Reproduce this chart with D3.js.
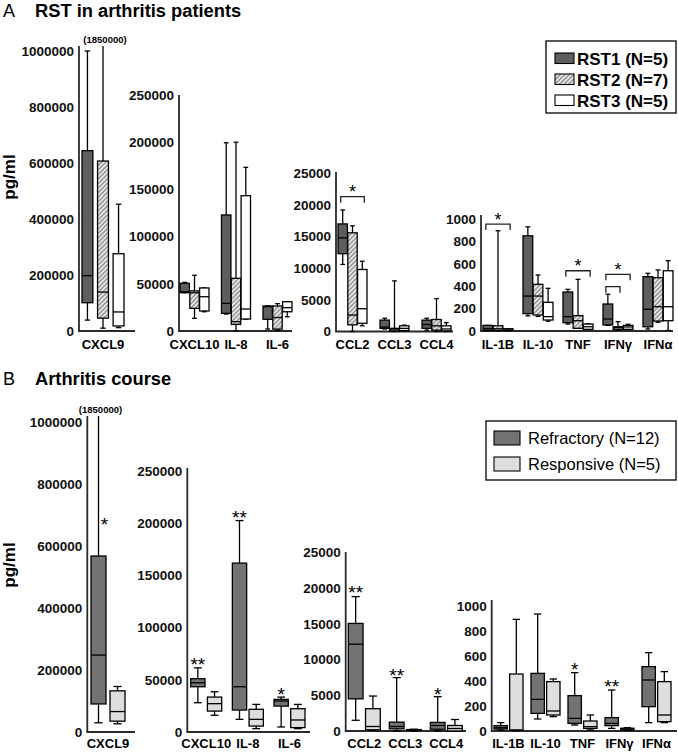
<!DOCTYPE html>
<html><head><meta charset="utf-8">
<script src="https://cdn.jsdelivr.net/npm/d3@7"></script>
<style>
body{margin:0;background:#fff}
svg{display:block}
text{font-family:"Liberation Sans",Arial,Helvetica,sans-serif}
</style>
</head><body>
<svg id="chart" width="678" height="755"></svg>
<script>
// ---------------- DATA ----------------
const seriesA = ["RST1 (N=5)", "RST2 (N=7)", "RST3 (N=5)"];
const seriesB = ["Refractory (N=12)", "Responsive (N=5)"];

const groupChemo9 = ["CXCL9"];
const groupChemoIL = ["CXCL10", "IL-8", "IL-6"];
const groupCCL = ["CCL2", "CCL3", "CCL4"];
const groupLow = ["IL-1B", "IL-10", "TNF", "IFNγ", "IFNα"];

const ticksMillion = [0, 200000, 400000, 600000, 800000, 1000000];
const ticks250k = [0, 50000, 100000, 150000, 200000, 250000];
const ticks25k = [0, 5000, 10000, 15000, 20000, 25000];
const ticks1k = [0, 200, 400, 600, 800, 1000];

const outlierLabel = "(1850000)";

// box stats: [low whisker, Q1, median, Q3, high whisker]
const rst1Stats = {
  "CXCL9": [39000, 101000, 197500, 644000, 1000000],
  "CXCL10": [40600, 40600, 41500, 50500, 51500],
  "IL-8": [18000, 18700, 29300, 122900, 199400],
  "IL-6": [2100, 12400, 25800, 26500, 26500],
  "CCL2": [10600, 12300, 14800, 17000, 19200],
  "CCL3": [400, 500, 700, 1800, 2100],
  "CCL4": [200, 500, 1100, 1800, 2100],
  "IL-1B": [3, 5, 20, 50, 50],
  "IL-10": [135, 155, 312, 850, 930],
  "TNF": [62, 74, 128, 348, 372],
  "IFNγ": [50, 54, 107, 241, 328],
  "IFNα": [18, 38, 194, 485, 515]
};
const rst2Stats = {
  "CXCL9": [10000, 46000, 139000, 607000, 1850000],
  "CXCL10": [13400, 24000, 40500, 42500, 59000],
  "IL-8": [0, 7000, 9900, 55800, 200000],
  "IL-6": [500, 2000, 14300, 26500, 29000],
  "CCL2": [0, 1050, 2600, 15600, 16700],
  "CCL3": [0, 50, 250, 500, 8000],
  "CCL4": [0, 200, 900, 1900, 5200],
  "IL-1B": [3, 5, 20, 47, 895],
  "IL-10": [130, 143, 312, 417, 500],
  "TNF": [24, 24, 92, 137, 461],
  "IFNγ": [8, 15, 30, 38, 83],
  "IFNα": [78, 89, 217, 476, 545]
};
const rst3Stats = {
  "CXCL9": [12000, 18000, 68000, 276000, 453000],
  "CXCL10": [20400, 21200, 36300, 45600, 45600],
  "IL-8": [12700, 12700, 23300, 143300, 173400],
  "IL-6": [15100, 20400, 24700, 31000, 31000],
  "CCL2": [900, 1300, 3600, 9800, 11100],
  "CCL3": [100, 150, 500, 900, 1000],
  "CCL4": [0, 100, 400, 900, 1400],
  "IL-1B": [2, 4, 10, 20, 20],
  "IL-10": [88, 98, 128, 256, 381],
  "TNF": [15, 15, 38, 62, 65],
  "IFNγ": [15, 15, 36, 50, 60],
  "IFNα": [5, 92, 217, 538, 628]
};
const refractoryStats = {
  "CXCL9": [29800, 90600, 248600, 568600, 1850000],
  "CXCL10": [28000, 43300, 47100, 51000, 61400],
  "IL-8": [12100, 21000, 43300, 161600, 202300],
  "IL-6": [4800, 24800, 29600, 31200, 33400],
  "CCL2": [1500, 4500, 12150, 15050, 18800],
  "CCL3": [0, 300, 630, 1240, 7470],
  "CCL4": [0, 250, 770, 1200, 4800],
  "IL-1B": [8, 16, 27, 43, 67],
  "IL-10": [96, 141, 253, 461, 936],
  "TNF": [48, 61, 101, 283, 467],
  "IFNγ": [21, 43, 61, 107, 328],
  "IFNα": [67, 195, 408, 515, 627]
};
const responsiveStats = {
  "CXCL9": [26500, 35000, 66000, 133000, 147000],
  "CXCL10": [16000, 20000, 27100, 33400, 38500],
  "IL-8": [3200, 5700, 12100, 21700, 26400],
  "IL-6": [3200, 4200, 11500, 22300, 26400],
  "CCL2": [100, 170, 630, 3120, 4890],
  "CCL3": [20, 50, 100, 200, 250],
  "CCL4": [0, 0, 350, 770, 1610],
  "IL-1B": [3, 5, 8, 456, 893],
  "IL-10": [115, 128, 160, 395, 416],
  "TNF": [8, 21, 35, 80, 128],
  "IFNγ": [5, 8, 15, 22, 27],
  "IFNα": [67, 75, 128, 395, 475]
};

// significance
const bracketsA = [
  {cat: "CCL2", from: 0, to: 2, value: 21300, label: "*"},
  {cat: "IL-1B", from: 0, to: 2, value: 955, label: "*"},
  {cat: "TNF", from: 0, to: 2, value: 538, label: "*"},
  {cat: "IFNγ", from: 0, to: 2, value: 506, label: "*"},
  {cat: "IFNγ", from: 0, to: 1, value: 396, label: ""}
];
const starsB = [
  {cat: "CXCL9", value: 682000, label: "*"},
  {cat: "CXCL10", value: 67700, label: "**"},
  {cat: "IL-8", value: 208700, label: "**"},
  {cat: "IL-6", value: 39100, label: "*"},
  {cat: "CCL2", value: 19830, label: "**"},
  {cat: "CCL3", value: 8260, label: "**"},
  {cat: "CCL4", value: 5620, label: "*"},
  {cat: "TNF", value: 520, label: "*"},
  {cat: "IFNγ", value: 382, label: "**"}
];

// ---------------- LAYOUT / STYLE ----------------
const svg = d3.select("#chart");
const defs = svg.append("defs");
const pat = defs.append("pattern").attr("id", "hatch")
  .attr("patternUnits", "userSpaceOnUse").attr("width", 3.2).attr("height", 3.2)
  .attr("patternTransform", "rotate(45)");
pat.append("rect").attr("width", 3.2).attr("height", 3.2).attr("fill", "#e8e8e8");
pat.append("line").attr("x1", 0.8).attr("y1", 0).attr("x2", 0.8).attr("y2", 3.2)
  .attr("stroke", "#7a7a7a").attr("stroke-width", 1.1);

const fillsA = ["#5e5e5e", "url(#hatch)", "#ffffff"];
const fillsB = ["#737373", "#dedede"];
const AX = "#2a2a2a";

const panelA = {
  series: seriesA, stats: [rst1Stats, rst2Stats, rst3Stats], fills: fillsA, labelY: 348.5, capFrac: 0.5,
  subs: [
    {cats: groupChemo9, ticks: ticksMillion, x0: 79, xEnd: 135, top: 46, y0: 331, yMax: 51, range: [82, 124], pc: 0, ps: 0.3},
    {cats: groupChemoIL, ticks: ticks250k, x0: 179, xEnd: 292, top: 95, y0: 331, yMax: 95, range: [180, 292], pc: 0.301, ps: 0.04},
    {cats: groupCCL, ticks: ticks25k, x0: 336, xEnd: 453, top: 172, y0: 331.5, yMax: 173.3, range: [338, 451], pc: 0.31, ps: 0.04},
    {cats: groupLow, ticks: ticks1k, x0: 481, xEnd: 673, top: 215, y0: 331, yMax: 219, range: [483, 673], pc: 0.25, ps: 0.04}
  ]
};
const panelB = {
  series: seriesB, stats: [refractoryStats, responsiveStats], fills: fillsB, labelY: 748, capFrac: 0.55,
  subs: [
    {cats: groupChemo9, ticks: ticksMillion, x0: 87.3, xEnd: 135, top: 416, y0: 732, yMax: 422.5, range: [91, 125], pc: 0, ps: 0.21},
    {cats: groupChemoIL, ticks: ticks250k, x0: 187.3, xEnd: 310, top: 468, y0: 732, yMax: 470.7, range: [190.7, 305], pc: 0.256, ps: 0.144},
    {cats: groupCCL, ticks: ticks25k, x0: 345.7, xEnd: 466, top: 552, y0: 731, yMax: 552.3, range: [348.3, 462.3], pc: 0.22, ps: 0.144},
    {cats: groupLow, ticks: ticks1k, x0: 491.7, xEnd: 677, top: 600, y0: 731, yMax: 606, range: [494, 671], pc: 0.216, ps: 0.144}
  ]
};

function drawPanel(panel) {
  const scales = {};
  panel.subs.forEach(sub => {
    const dmax = sub.ticks[sub.ticks.length - 1];
    const y = d3.scaleLinear().domain([0, dmax]).range([sub.y0, sub.yMax]);
    const x = d3.scaleBand().domain(sub.cats).range(sub.range).paddingInner(sub.pc).paddingOuter(0);
    const xs = d3.scaleBand().domain(panel.series).range([0, x.bandwidth()]).paddingInner(sub.ps).paddingOuter(0);
    sub.cats.forEach(c => scales[c] = {x, xs, y, dmax, sub});

    const g = svg.append("g");
    // axis
    const ax = g.append("g").attr("transform", `translate(${sub.x0},0)`)
      .call(d3.axisLeft(y).tickValues(sub.ticks).tickSize(0).tickPadding(5).tickFormat(d3.format("d")));
    ax.select(".domain").remove();
    ax.selectAll("text").attr("font-size", 13.5).attr("font-weight", "bold").attr("fill", "#111")
      .style("font-family", '"Liberation Sans",Arial,sans-serif');
    g.append("line").attr("x1", sub.x0).attr("x2", sub.x0).attr("y1", sub.top).attr("y2", sub.y0)
      .attr("stroke", AX).attr("stroke-width", 1.8);
    g.append("line").attr("x1", sub.x0 - 0.9).attr("x2", sub.xEnd).attr("y1", sub.y0).attr("y2", sub.y0)
      .attr("stroke", AX).attr("stroke-width", 1.8);

    // boxes
    sub.cats.forEach(c => {
      panel.series.forEach((s, si) => {
        const st = panel.stats[si][c];
        const [lo, q1, med, q3, hi] = st;
        const bx = x(c) + xs(s), bw = xs.bandwidth(), cx = bx + bw / 2;
        const capW = bw * panel.capFrac;
        const clipped = hi > dmax;
        const yHi = clipped ? sub.top : y(hi);
        const bg = g.append("g").attr("stroke", "#000").attr("stroke-width", 1.3);
        bg.append("line").attr("x1", cx).attr("x2", cx).attr("y1", y(q3)).attr("y2", yHi);
        if (!clipped) bg.append("line").attr("x1", cx - capW / 2).attr("x2", cx + capW / 2).attr("y1", yHi).attr("y2", yHi);
        bg.append("line").attr("x1", cx).attr("x2", cx).attr("y1", y(q1)).attr("y2", y(lo));
        bg.append("line").attr("x1", cx - capW / 2).attr("x2", cx + capW / 2).attr("y1", y(lo)).attr("y2", y(lo));
        bg.append("rect").attr("x", bx).attr("y", y(q3)).attr("width", bw)
          .attr("height", Math.max(0.8, y(q1) - y(q3))).attr("fill", panel.fills[si]);
        bg.append("line").attr("x1", bx).attr("x2", bx + bw).attr("y1", y(med)).attr("y2", y(med));
        if (clipped) {
          g.append("text").attr("x", cx + 2).attr("y", sub.top - 3).attr("text-anchor", "middle")
            .attr("font-size", 9.5).attr("font-weight", "bold").text(outlierLabel);
        }
      });
      g.append("text").attr("x", x(c) + x.bandwidth() / 2).attr("y", panel.labelY)
        .attr("text-anchor", "middle").attr("font-size", 13).attr("font-weight", "bold").text(c);
    });
  });
  return scales;
}

const scA = drawPanel(panelA);
const scB = drawPanel(panelB);

// brackets panel A
bracketsA.forEach(b => {
  const s = scA[b.cat];
  const x1 = s.x(b.cat) + s.xs(seriesA[b.from]) + s.xs.bandwidth() / 2 - 2;
  const x2 = s.x(b.cat) + s.xs(seriesA[b.to]) + s.xs.bandwidth() / 2 + 2;
  const yy = s.y(b.value);
  svg.append("path").attr("d", `M${x1},${yy + 6}V${yy}H${x2}V${yy + 6}`)
    .attr("fill", "none").attr("stroke", "#222").attr("stroke-width", 1.3);
  if (b.label) svg.append("text").attr("x", (x1 + x2) / 2).attr("y", yy - 8.5 + 10)
    .attr("text-anchor", "middle").attr("font-size", 18).text(b.label);
});

// stars panel B
starsB.forEach(st => {
  const s = scB[st.cat];
  const hi = refractoryStats[st.cat][4];
  const cx = s.x(st.cat) + s.xs(seriesB[0]) + s.xs.bandwidth() / 2 + (hi > s.dmax ? 6 : 0);
  svg.append("text").attr("x", cx).attr("y", s.y(st.value) + 10)
    .attr("text-anchor", "middle").attr("font-size", 19).text(st.label);
});

// titles
function title(letter, txt, yb) {
  svg.append("text").attr("x", 3).attr("y", yb).attr("font-size", 18).text(letter);
  svg.append("text").attr("x", 35).attr("y", yb).attr("font-size", 18.3).attr("font-weight", "bold").text(txt);
}
title("A", "RST in arthritis patients", 17);
title("B", "Arthritis course", 385);

// y labels
[[177], [565]].forEach(([cy]) => {
  svg.append("text").attr("transform", `translate(15,${cy}) rotate(-90)`).attr("text-anchor", "middle")
    .attr("font-size", 17).attr("font-weight", "bold").text("pg/ml");
});

// legend A
const lgA = svg.append("g");
lgA.append("rect").attr("x", 546).attr("y", 41).attr("width", 130).attr("height", 72)
  .attr("fill", "#fff").attr("stroke", "#000").attr("stroke-width", 1.3);
seriesA.forEach((s, i) => {
  const yy = 53 + i * 21;
  lgA.append("rect").attr("x", 555).attr("y", yy).attr("width", 19).attr("height", 10.5)
    .attr("fill", fillsA[i]).attr("stroke", "#000").attr("stroke-width", 1.1);
  lgA.append("text").attr("x", 577).attr("y", yy + 11.5).attr("font-size", 17).attr("font-weight", "bold").text(s);
});
// legend B
const lgB = svg.append("g");
lgB.append("rect").attr("x", 486).attr("y", 421).attr("width", 190).attr("height", 59)
  .attr("fill", "#fff").attr("stroke", "#000").attr("stroke-width", 1.3);
seriesB.forEach((s, i) => {
  const yy = 431 + i * 26;
  lgB.append("rect").attr("x", 494).attr("y", yy).attr("width", 26).attr("height", 14)
    .attr("fill", fillsB[i]).attr("stroke", "#000").attr("stroke-width", 1.1);
  lgB.append("text").attr("x", 528).attr("y", yy + 13).attr("font-size", 16.5).text(s);
});
</script>
</body></html>
